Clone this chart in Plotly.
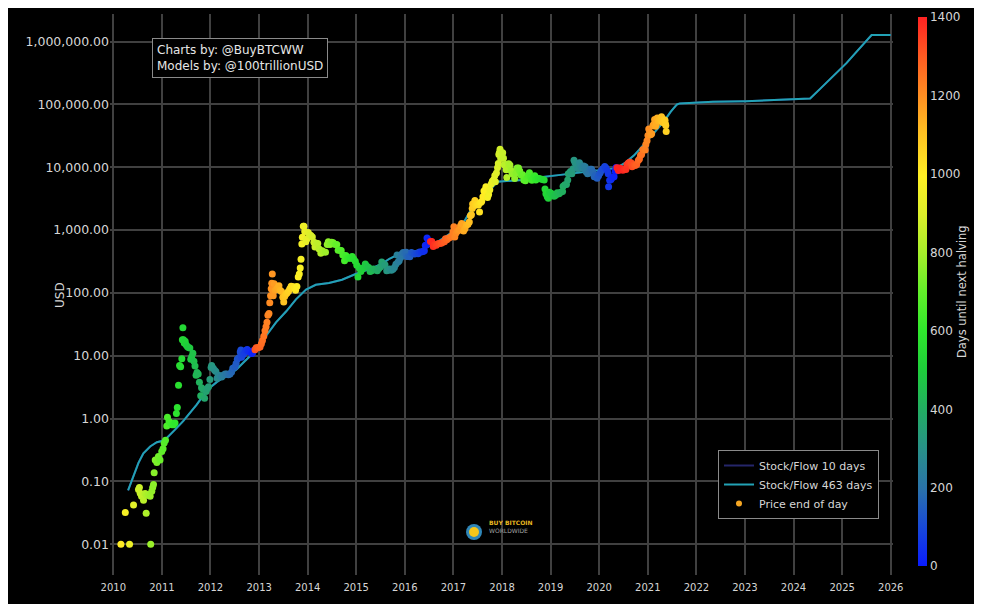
import plotly.graph_objects as go
import pandas as pd

# ---------------- data ----------------
price_dates = [
    "2010-02-27", "2010-04-01", "2010-05-03", "2010-06-02", "2010-07-09", "2010-07-16", "2010-07-22",
    "2010-08-01", "2010-08-16", "2010-08-28", "2010-09-05", "2010-09-10", "2010-09-22", "2010-10-05",
    "2010-10-09", "2010-10-17", "2010-10-24", "2010-10-30", "2010-11-04", "2010-11-12", "2010-11-24",
    "2010-12-06", "2010-12-18", "2010-12-31", "2011-01-10", "2011-01-18", "2011-01-28", "2011-02-07",
    "2011-02-12", "2011-02-24", "2011-03-06", "2011-03-18", "2011-03-30", "2011-04-10", "2011-04-20",
    "2011-04-27", "2011-05-06", "2011-05-14", "2011-05-22", "2011-05-31", "2011-06-04", "2011-06-08",
    "2011-06-12", "2011-06-18", "2011-06-25", "2011-07-02", "2011-07-11", "2011-07-20", "2011-07-30",
    "2011-08-06", "2011-08-13", "2011-08-22", "2011-08-30", "2011-09-07", "2011-09-15", "2011-09-22",
    "2011-10-01", "2011-10-10", "2011-10-20", "2011-10-26", "2011-11-08", "2011-11-18", "2011-11-29",
    "2011-12-08", "2011-12-18", "2011-12-28", "2012-01-06", "2012-01-10", "2012-01-22", "2012-02-01",
    "2012-02-11", "2012-02-20", "2012-03-01", "2012-03-13", "2012-03-25", "2012-04-07", "2012-04-20",
    "2012-05-02", "2012-05-15", "2012-05-27", "2012-06-08", "2012-06-17", "2012-07-04", "2012-07-12",
    "2012-07-21", "2012-08-01", "2012-08-12", "2012-08-17", "2012-08-22", "2012-09-04", "2012-09-15",
    "2012-09-24", "2012-10-04", "2012-10-12", "2012-10-24", "2012-11-05", "2012-11-13", "2012-11-25",
    "2012-12-01", "2012-12-10", "2012-12-18", "2012-12-28", "2013-01-08", "2013-01-18", "2013-01-26",
    "2013-02-05", "2013-02-14", "2013-02-22", "2013-03-01", "2013-03-08", "2013-03-16", "2013-03-22",
    "2013-03-28", "2013-04-02", "2013-04-06", "2013-04-10", "2013-04-13", "2013-04-17", "2013-04-24",
    "2013-05-01", "2013-05-08", "2013-05-15", "2013-05-22", "2013-05-30", "2013-06-08", "2013-06-18",
    "2013-06-28", "2013-07-05", "2013-07-12", "2013-07-20", "2013-07-30", "2013-08-10", "2013-08-20",
    "2013-08-30", "2013-09-10", "2013-09-22", "2013-10-02", "2013-10-12", "2013-10-22", "2013-10-30",
    "2013-11-06", "2013-11-12", "2013-11-18", "2013-11-22", "2013-11-29", "2013-12-04", "2013-12-10",
    "2013-12-18", "2013-12-26", "2014-01-05", "2014-01-15", "2014-01-25", "2014-02-05", "2014-02-17",
    "2014-02-25", "2014-03-07", "2014-03-18", "2014-03-28", "2014-04-10", "2014-04-20", "2014-05-01",
    "2014-05-15", "2014-05-28", "2014-06-05", "2014-06-18", "2014-06-30", "2014-07-12", "2014-07-27",
    "2014-08-08", "2014-08-18", "2014-08-31", "2014-09-10", "2014-09-22", "2014-10-05", "2014-10-15",
    "2014-10-28", "2014-11-10", "2014-11-20", "2014-12-01", "2014-12-12", "2014-12-25", "2015-01-05",
    "2015-01-14", "2015-01-24", "2015-02-05", "2015-02-15", "2015-02-28", "2015-03-10", "2015-03-22",
    "2015-04-05", "2015-04-15", "2015-04-28", "2015-05-10", "2015-05-25", "2015-06-08", "2015-06-20",
    "2015-07-01", "2015-07-12", "2015-07-22", "2015-08-05", "2015-08-18", "2015-08-28", "2015-09-10",
    "2015-09-22", "2015-10-04", "2015-10-15", "2015-10-26", "2015-11-04", "2015-11-11", "2015-11-20",
    "2015-12-01", "2015-12-10", "2015-12-20", "2016-01-01", "2016-01-12", "2016-01-16", "2016-01-28",
    "2016-02-08", "2016-02-20", "2016-03-02", "2016-03-15", "2016-03-28", "2016-04-10", "2016-04-22",
    "2016-05-05", "2016-05-18", "2016-05-27", "2016-06-03", "2016-06-10", "2016-06-16", "2016-06-22",
    "2016-06-30", "2016-07-06", "2016-07-12", "2016-07-22", "2016-08-02", "2016-08-12", "2016-08-25",
    "2016-09-05", "2016-09-18", "2016-10-01", "2016-10-12", "2016-10-25", "2016-11-02", "2016-11-12",
    "2016-11-25", "2016-12-08", "2016-12-18", "2016-12-28", "2017-01-04", "2017-01-11", "2017-01-20",
    "2017-02-01", "2017-02-12", "2017-02-23", "2017-03-03", "2017-03-12", "2017-03-18", "2017-03-28",
    "2017-04-08", "2017-04-20", "2017-04-30", "2017-05-08", "2017-05-16", "2017-05-22", "2017-05-25",
    "2017-06-01", "2017-06-11", "2017-06-18", "2017-06-28", "2017-07-08", "2017-07-16", "2017-07-24",
    "2017-08-01", "2017-08-10", "2017-08-18", "2017-08-28", "2017-09-02", "2017-09-14", "2017-09-22",
    "2017-10-01", "2017-10-12", "2017-10-20", "2017-10-31", "2017-11-08", "2017-11-12", "2017-11-20",
    "2017-11-28", "2017-12-04", "2017-12-08", "2017-12-12", "2017-12-17", "2017-12-22", "2017-12-28",
    "2018-01-06", "2018-01-12", "2018-01-17", "2018-01-26", "2018-02-01", "2018-02-06", "2018-02-14",
    "2018-02-20", "2018-03-01", "2018-03-10", "2018-03-18", "2018-03-28", "2018-04-06", "2018-04-16",
    "2018-04-24", "2018-05-05", "2018-05-14", "2018-05-25", "2018-06-05", "2018-06-14", "2018-06-26",
    "2018-07-08", "2018-07-18", "2018-07-26", "2018-08-06", "2018-08-14", "2018-08-24", "2018-09-04",
    "2018-09-12", "2018-09-22", "2018-10-05", "2018-10-20", "2018-11-03", "2018-11-14", "2018-11-20",
    "2018-11-27", "2018-12-07", "2018-12-15", "2018-12-24", "2019-01-05", "2019-01-15", "2019-01-28",
    "2019-02-08", "2019-02-20", "2019-03-05", "2019-03-18", "2019-04-01", "2019-04-05", "2019-04-18",
    "2019-04-30", "2019-05-10", "2019-05-14", "2019-05-25", "2019-05-30", "2019-06-10", "2019-06-20",
    "2019-06-26", "2019-07-03", "2019-07-12", "2019-07-18", "2019-07-28", "2019-08-06", "2019-08-15",
    "2019-08-28", "2019-09-06", "2019-09-18", "2019-09-25", "2019-10-06", "2019-10-17", "2019-10-26",
    "2019-11-05", "2019-11-15", "2019-11-25", "2019-12-05", "2019-12-17", "2019-12-28", "2020-01-08",
    "2020-01-18", "2020-01-30", "2020-02-12", "2020-02-22", "2020-03-03", "2020-03-09", "2020-03-12",
    "2020-03-20", "2020-03-30", "2020-04-10", "2020-04-22", "2020-04-30", "2020-05-07", "2020-05-10",
    "2020-05-14", "2020-05-25", "2020-06-03", "2020-06-15", "2020-06-27", "2020-07-08", "2020-07-20",
    "2020-07-28", "2020-08-08", "2020-08-18", "2020-08-30", "2020-09-05", "2020-09-18", "2020-09-28",
    "2020-10-09", "2020-10-21", "2020-10-30", "2020-11-07", "2020-11-15", "2020-11-24", "2020-12-03",
    "2020-12-12", "2020-12-17", "2020-12-26", "2021-01-02", "2021-01-08", "2021-01-16", "2021-01-22",
    "2021-01-30", "2021-02-08", "2021-02-15", "2021-02-21", "2021-02-28", "2021-03-06", "2021-03-13",
    "2021-03-22", "2021-03-30", "2021-04-07", "2021-04-14", "2021-04-22", "2021-04-26", "2021-05-03",
    "2021-05-10", "2021-05-13", "2021-05-16", "2021-05-19",
]
price_usd = [
    0.01, 0.032, 0.01, 0.042, 0.074, 0.08, 0.065,
    0.058, 0.05, 0.064, 0.031, 0.06, 0.062, 0.058,
    0.01, 0.07, 0.08, 0.089, 0.137, 0.22, 0.2,
    0.25, 0.22, 0.3, 0.33, 0.41, 0.45, 0.76,
    1.05, 0.9, 0.86, 0.8, 0.8, 0.85, 1.2,
    1.5, 3.4, 7.0, 6.7, 9.0, 18.0, 28.0,
    18.0, 16.0, 17.0, 15.0, 14.0, 13.5, 13.3,
    8.8, 9.6, 11.0, 8.2, 6.9, 4.9, 5.4,
    5.1, 3.8, 2.3, 3.1, 2.9, 2.1, 2.7,
    3.0, 3.2, 4.2, 6.5, 7.0, 6.3, 5.9,
    5.6, 4.4, 4.9, 4.8, 4.6, 4.9, 5.1,
    5.1, 5.0, 5.1, 5.5, 6.3, 6.7, 7.5,
    8.8, 9.3, 11.5, 12.4, 9.5, 10.5, 11.3,
    12.2, 12.6, 11.8, 11.6, 10.9, 11.0, 12.3,
    12.5, 13.4, 13.4, 13.5, 13.8, 15.5, 17.5,
    20.5, 25.0, 29.0, 34.0, 44.0, 47.0, 70.0,
    90.0, 117.0, 143.0, 200.0, 110.0, 90.0, 140.0,
    110.0, 112.0, 115.0, 122.0, 130.0, 110.0, 105.0,
    85.0, 72.0, 88.0, 95.0, 100.0, 106.0, 117.0,
    128.0, 125.0, 124.0, 110.0, 126.0, 180.0, 200.0,
    250.0, 345.0, 600.0, 770.0, 1150.0, 1150.0, 950.0,
    650.0, 720.0, 920.0, 840.0, 820.0, 780.0, 640.0,
    540.0, 620.0, 610.0, 500.0, 430.0, 470.0, 450.0,
    445.0, 590.0, 650.0, 590.0, 640.0, 630.0, 590.0,
    590.0, 480.0, 480.0, 475.0, 400.0, 325.0, 395.0,
    355.0, 360.0, 355.0, 380.0, 350.0, 320.0, 275.0,
    180.0, 250.0, 220.0, 240.0, 255.0, 290.0, 265.0,
    255.0, 220.0, 225.0, 240.0, 237.0, 225.0, 245.0,
    258.0, 310.0, 275.0, 280.0, 225.0, 230.0, 240.0,
    230.0, 238.0, 255.0, 285.0, 400.0, 310.0, 325.0,
    365.0, 415.0, 440.0, 430.0, 445.0, 380.0, 380.0,
    375.0, 440.0, 425.0, 415.0, 425.0, 420.0, 450.0,
    450.0, 455.0, 470.0, 570.0, 580.0, 750.0, 600.0,
    670.0, 670.0, 660.0, 660.0, 550.0, 590.0, 575.0,
    605.0, 610.0, 615.0, 640.0, 655.0, 730.0, 705.0,
    740.0, 770.0, 790.0, 930.0, 1130.0, 780.0, 900.0,
    970.0, 1000.0, 1170.0, 1270.0, 1230.0, 970.0, 1050.0,
    1190.0, 1240.0, 1350.0, 1700.0, 1750.0, 2200.0, 2600.0,
    2400.0, 2950.0, 2500.0, 2600.0, 2500.0, 1950.0, 2750.0,
    2850.0, 3400.0, 4200.0, 4400.0, 4900.0, 3300.0, 3700.0,
    4400.0, 5400.0, 6000.0, 6400.0, 7400.0, 5900.0, 8100.0,
    9800.0, 11500.0, 16000.0, 17000.0, 19400.0, 13800.0, 14500.0,
    17100.0, 13900.0, 11000.0, 11100.0, 9100.0, 6900.0, 9500.0,
    11400.0, 10900.0, 8900.0, 7900.0, 7900.0, 6600.0, 8000.0,
    9700.0, 9700.0, 8700.0, 7500.0, 7600.0, 6300.0, 6100.0,
    6700.0, 7300.0, 8200.0, 7000.0, 6200.0, 6700.0, 7300.0,
    6300.0, 6700.0, 6600.0, 6500.0, 6400.0, 6300.0, 4500.0,
    3800.0, 3400.0, 3200.0, 4000.0, 3850.0, 3600.0, 3450.0,
    3600.0, 3950.0, 3800.0, 4000.0, 4100.0, 5000.0, 5250.0,
    5300.0, 6300.0, 7900.0, 8000.0, 8600.0, 7900.0, 9500.0,
    12900.0, 11900.0, 11400.0, 9700.0, 9500.0, 11800.0, 10300.0,
    9700.0, 10500.0, 10200.0, 8500.0, 7900.0, 8100.0, 9300.0,
    9300.0, 8500.0, 7100.0, 7500.0, 6700.0, 7300.0, 8100.0,
    8900.0, 9500.0, 10300.0, 9700.0, 8800.0, 7900.0, 4900.0,
    6200.0, 6400.0, 6900.0, 7100.0, 8700.0, 9900.0, 8700.0,
    9800.0, 8900.0, 9700.0, 9400.0, 9000.0, 9400.0, 9200.0,
    11000.0, 11700.0, 12000.0, 11700.0, 10200.0, 11000.0, 10700.0,
    11100.0, 12800.0, 13500.0, 15500.0, 16000.0, 19100.0, 19200.0,
    18800.0, 23100.0, 26500.0, 32000.0, 40500.0, 36000.0, 33000.0,
    34300.0, 46000.0, 48500.0, 57500.0, 45200.0, 49000.0, 61000.0,
    54500.0, 58700.0, 56000.0, 63500.0, 51700.0, 53000.0, 57200.0,
    56000.0, 49500.0, 46400.0, 37000.0,
]

s2f_dates = [
    "2010-04-22", "2010-06-03", "2010-07-09", "2010-08-15", "2010-10-05", "2010-11-24", "2011-01-01",
    "2011-02-07", "2011-03-15", "2011-04-23", "2011-06-10", "2011-07-31", "2011-09-20", "2011-11-06",
    "2011-12-28", "2012-02-17", "2012-04-08", "2012-05-27", "2012-07-17", "2012-09-05", "2012-10-24",
    "2012-12-13", "2013-02-24", "2013-05-08", "2013-07-24", "2013-10-05", "2013-12-20", "2014-03-03",
    "2014-06-10", "2014-09-16", "2014-12-28", "2015-04-05", "2015-07-13", "2015-09-07", "2015-11-14",
    "2016-01-04", "2016-05-08", "2016-09-09", "2017-01-11", "2017-03-25", "2017-05-12", "2017-07-27",
    "2017-10-01", "2017-11-25", "2018-06-01", "2018-10-01", "2019-03-01", "2019-10-10", "2020-05-08",
    "2020-07-08", "2020-09-20", "2020-12-05", "2021-02-17", "2021-05-01", "2021-06-21", "2021-08-08",
    "2021-08-30", "2022-05-05", "2023-01-10", "2023-09-20", "2024-05-05", "2024-07-15", "2024-10-25",
    "2025-02-02", "2025-04-20", "2025-08-10", "2026-01-01",
]
s2f_463_days = [
    0.072, 0.12, 0.197, 0.28, 0.36, 0.42, 0.44,
    0.49, 0.58, 0.71, 0.91, 1.23, 1.67, 2.3,
    3.1, 3.8, 4.5, 5.1, 6.1, 7.8, 10.0,
    12.5, 21.0, 34.0, 51.0, 79.0, 113.0, 135.0,
    144.0, 162.0, 200.0, 237.0, 290.0, 350.0, 410.0,
    427.0, 485.0, 660.0, 980.0, 1400.0, 2100.0, 2900.0,
    4300.0, 5900.0, 6300.0, 6900.0, 7500.0, 8600.0, 9700.0,
    11500.0, 15500.0, 23400.0, 35500.0, 53500.0, 76000.0, 100000.0,
    104000.0, 110000.0, 113000.0, 120000.0, 124000.0, 174000.0, 283000.0,
    455000.0, 695000.0, 1270000.0, 1270000.0,
]
# the 10-day model line is drawn in dark navy and is hidden below the 463-day line
s2f_10_days = s2f_463_days

halving_dates = ["2012-11-28", "2016-07-09", "2020-05-11", "2024-04-20"]

colorbar_ticks = [0, 200, 400, 600, 800, 1000, 1200, 1400]
y_ticks = [0.01, 0.1, 1, 10, 100, 1000, 10000, 100000, 1000000]

# colour value: days until the next halving
_h = pd.to_datetime(halving_dates)
days_until_halving = [min((hd - d).days for hd in _h if hd > d) for d in pd.to_datetime(price_dates)]

# ---------------- figure ----------------
FONT = "DejaVu Sans"
TXT = "#d6d6d6"
TEAL = "#22a2b5"

cscale = [
    [0.0, "#0a1cff"], [0.07, "#1848d8"], [0.14, "#2a72aa"], [0.21, "#288f8a"],
    [0.285, "#22ad62"], [0.36, "#1ecf3a"], [0.43, "#30e82c"], [0.5, "#62f02a"],
    [0.57, "#a6f02a"], [0.64, "#dcf02a"], [0.71, "#fff024"], [0.79, "#ffc022"],
    [0.86, "#ff8c22"], [0.93, "#ff5a22"], [1.0, "#ff2222"],
]

fig = go.Figure()
fig.add_trace(go.Scatter(
    x=s2f_dates, y=s2f_10_days, mode="lines", name="Stock/Flow 10 days",
    line=dict(color="#25266a", width=2), hoverinfo="skip"))
fig.add_trace(go.Scatter(
    x=s2f_dates, y=s2f_463_days, mode="lines", name="Stock/Flow 463 days",
    line=dict(color=TEAL, width=2)))
fig.add_trace(go.Scatter(
    x=price_dates, y=price_usd, mode="markers", name="Price end of day", showlegend=False,
    marker=dict(size=7, color=days_until_halving, colorscale=cscale, cmin=0, cmax=1400,
                line=dict(width=0),
                colorbar=dict(
                    x=1.032, xanchor="left", xpad=0, ypad=0,
                    y=0.505, yanchor="middle", len=0.979, lenmode="fraction",
                    thickness=9, outlinewidth=0,
                    tickvals=colorbar_ticks, ticks="",
                    tickfont=dict(family=FONT, size=12, color=TXT),
                    title=dict(text="Days until next halving", side="right",
                               font=dict(family=FONT, size=11.5, color=TXT)),
                ))))
# legend entry for the price markers
fig.add_trace(go.Scatter(
    x=[None], y=[None], mode="markers", name="Price end of day",
    marker=dict(size=6, color="#f5a623")))

grid = dict(showgrid=True, gridcolor="#404040", gridwidth=1.5, zeroline=False,
            showline=False, ticks="")

# the page body adds an 8px offset, so the figure is 8px smaller on each side
fig.update_layout(
    width=974, height=596,
    paper_bgcolor="black", plot_bgcolor="black",
    margin=dict(l=102, r=89, t=6, b=29),
    font=dict(family=FONT, size=11, color=TXT),
    xaxis=dict(type="date", range=["2009-12-07", "2026-01-18"], dtick="M12",
               tick0="2010-01-01", tickformat="%Y", ticklabelstandoff=5,
               tickfont=dict(family=FONT, size=10, color=TXT), **grid),
    yaxis=dict(type="log", range=[-2.49, 6.44], tickvals=y_ticks, tickformat=",.2f",
               tickfont=dict(family=FONT, size=12.5, color=TXT), **grid),
    legend=dict(x=0.7765, y=0.2228, xanchor="left", yanchor="top",
                bgcolor="black", bordercolor="#8a8a8a", borderwidth=1,
                font=dict(family=FONT, size=11, color=TXT), itemwidth=30,
                tracegroupgap=0),
    showlegend=True,
)

fig.add_annotation(
    xref="paper", yref="paper", x=0.0536, y=0.957, xanchor="left", yanchor="top",
    text="Charts by: @BuyBTCWW<br>Models by: @100trillionUSD", align="left",
    showarrow=False, bgcolor="black", bordercolor="#8a8a8a", borderwidth=1, borderpad=4,
    font=dict(family=FONT, size=12, color="#e6e6e6"))

fig.add_annotation(
    xref="paper", yref="paper", x=-0.076, y=0.5, text="USD", textangle=-90,
    showarrow=False, font=dict(family=FONT, size=12, color=TXT))

# small "Buy Bitcoin Worldwide" watermark
fig.add_shape(type="circle", xref="paper", yref="paper", xsizemode="pixel", ysizemode="pixel",
              xanchor=0.4649, yanchor=0.0766, x0=-8, x1=8, y0=-8, y1=8,
              fillcolor="#2f86b8", line=dict(width=0))
fig.add_shape(type="circle", xref="paper", yref="paper", xsizemode="pixel", ysizemode="pixel",
              xanchor=0.4649, yanchor=0.0766, x0=-5, x1=5, y0=-5, y1=5,
              fillcolor="#f5c518", line=dict(width=0))
fig.add_annotation(xref="paper", yref="paper", x=0.4815, y=0.0838, xanchor="left",
                   text="<b>BUY BITCOIN</b>", showarrow=False,
                   font=dict(family=FONT, size=6, color="#e8b820"))
fig.add_annotation(xref="paper", yref="paper", x=0.4815, y=0.0695, xanchor="left",
                   text="WORLDWIDE", showarrow=False,
                   font=dict(family=FONT, size=6, color="#a0a0a0"))

fig.write_html("out.html")
